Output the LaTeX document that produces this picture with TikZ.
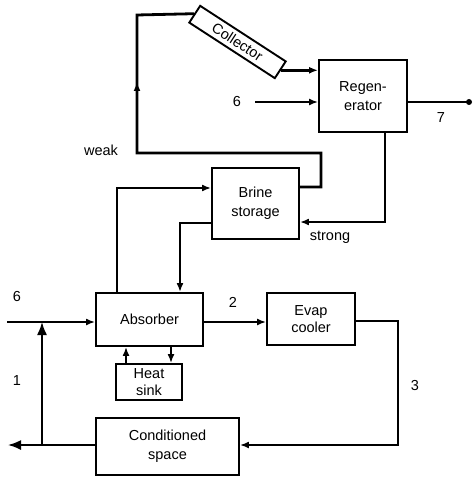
\documentclass[tikz,border=0pt]{standalone}
\usepackage{fontspec}
\setmainfont{Liberation Sans}
\usetikzlibrary{arrows.meta}
\begin{document}
\begin{tikzpicture}[x=1pt,y=-1pt,
  box/.style={draw, line width=1.9pt, align=center, inner sep=0pt, font=\fontsize{14.5}{17}\selectfont},
  lbl/.style={font=\fontsize{14.5}{17}\selectfont, inner sep=0pt},
  thickflow/.style={line width=2.8pt},
  thinflow/.style={line width=1.7pt},
  arr/.style={-{Latex[length=9pt,width=7pt]}},
  bigarr/.style={-{Latex[length=13pt,width=10pt]}}]
\useasboundingbox (0,0) rectangle (474,478);
% boxes
\node[box, minimum width=102pt, minimum height=20pt, rotate=-33] (col) at (237.5,42) {Collector};
\node[box, minimum width=88pt, minimum height=72pt] (reg) at (363,96) {Regen-\\[2pt]erator};
\node[box, minimum width=87pt, minimum height=71pt] (brine) at (255.5,203.5) {Brine\\[2pt]storage};
\node[box, minimum width=107pt, minimum height=53pt] (abs) at (149.5,319.5) {Absorber};
\node[box, minimum width=88pt, minimum height=52pt] (evap) at (311,319) {Evap\\cooler};
\node[box, minimum width=66pt, minimum height=36pt] (sink) at (149,382) {Heat\\sink};
\node[box, minimum width=143pt, minimum height=57pt] (cond) at (167.5,446.5) {Conditioned\\[2pt]space};
% coordinates
\coordinate (wTop) at (137,15);
\coordinate (wBot) at (137,153);
\coordinate (wR) at (321,153);
\coordinate (wRB) at (321,187);
\coordinate (in6a) at (255,102);
\coordinate (out7) at (469,102);
\coordinate (sTop) at (385,132);
\coordinate (sBot) at (385,222);
\coordinate (aL) at (117,188);
\coordinate (bL) at (180,223);
\coordinate (in6b) at (7,322);
\coordinate (junc) at (42,322);
\coordinate (jBot) at (42,445);
\coordinate (outL) at (8,445);
\coordinate (eR) at (398,321);
\coordinate (eB) at (398,445);
% top loop
\draw[thickflow, line join=miter] (col.west) -- (wTop) -- (wBot) -- (wR) -- (wRB) -- (brine.east |- wRB);
\draw[thickflow, arr] (wBot) -- (137,82);
\draw[thickflow, arr] (col.east) -- (reg.west |- col.east);
\draw[thinflow, arr] (in6a) -- (reg.west |- in6a);
\draw[thinflow] (reg.east |- out7) -- (out7);
\fill (out7) circle (3pt);
\draw[thickflow, arr] (sTop) -- (sBot) -- (brine.east |- sBot);
\draw[thickflow, arr] (abs.north -| aL) -- (aL) -- (brine.west |- aL);
\draw[thickflow, arr] (brine.west |- bL) -- (bL) -- (abs.north -| bL);
% lower loop
\draw[thinflow, arr] (in6b) -- (abs.west |- in6b);
\draw[thinflow, bigarr] (jBot) -- (junc);
\draw[thinflow, arr] (abs.east |- 0,322) -- (evap.west |- 0,322);
\draw[thinflow, arr] (evap.east |- eR) -- (eR) -- (eB) -- (cond.east |- eB);
\draw[thinflow, bigarr] (cond.west |- outL) -- (outL);
\draw[thinflow, arr] (sink.north -| 126,0) -- (abs.south -| 126,0);
\draw[thinflow, arr] (abs.south -| 171,0) -- (sink.north -| 171,0);
% labels
\node[lbl] (l6a) at (237,102) {6};
\node[lbl] (l7) at (441,118) {7};
\node[lbl] (lweak) at (101,150) {weak};
\node[lbl] (lstrong) at (330,237) {strong};
\node[lbl] (l6b) at (17,297) {6};
\node[lbl] (l2) at (233,302) {2};
\node[lbl] (l1) at (17,381) {1};
\node[lbl] (l3) at (415,386) {3};
\end{tikzpicture}
\end{document}
